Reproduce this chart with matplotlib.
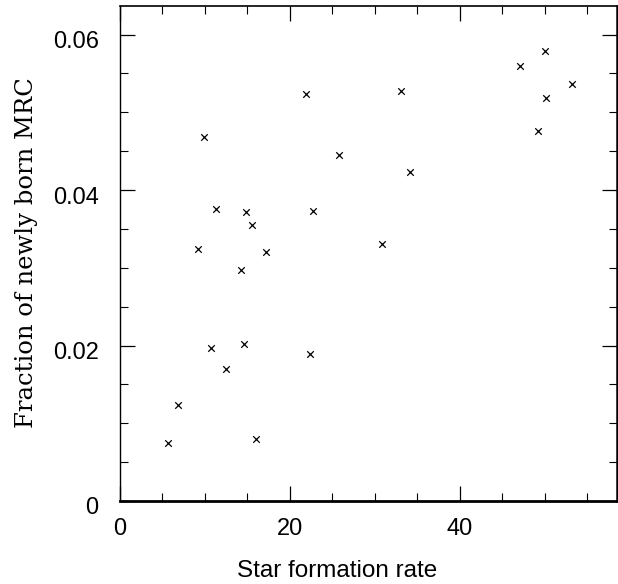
import matplotlib
matplotlib.use("Agg")
import matplotlib.pyplot as plt
from matplotlib.ticker import MultipleLocator, FixedLocator, FixedFormatter
from matplotlib.transforms import ScaledTranslation

# Data
sfr = [9.94, 21.94, 11.31, 14.88, 15.63, 22.8, 9.2, 17.24, 14.33,
       50.1, 47.15, 53.24, 50.18, 33.15, 49.24, 25.82, 34.18, 30.88,
       10.76, 14.69, 22.41, 12.49, 6.88, 5.71, 16.02]
frac = [0.04678, 0.05231, 0.03760, 0.03713, 0.03546, 0.03730, 0.03241, 0.03199, 0.02967,
        0.05784, 0.05595, 0.05363, 0.05179, 0.05273, 0.04755, 0.04446, 0.04236, 0.03306,
        0.01968, 0.02023, 0.01895, 0.01702, 0.01231, 0.00742, 0.00793]

xticks = [0, 20, 40]
xticklabels = ["0", "20", "40"]
yticks = [0, 0.02, 0.04, 0.06]
yticklabels = ["0", "0.02", "0.04", "0.06"]
xlabel = "Star formation rate"
ylabel = "Fraction of newly born MRC"

W, H = 618, 584
fig = plt.figure(figsize=(W / 100, H / 100), dpi=100)
ax = fig.add_axes([119.5 / W, 1 - 501 / H, (616.5 - 119.5) / W, (501 - 6) / H])

ax.scatter(sfr, frac, marker="x", s=22, color="black", linewidths=0.9, zorder=3)

ax.set_xlim(0, 58.47)
ax.set_ylim(0, 0.06367)

ax.xaxis.set_major_locator(FixedLocator(xticks))
ax.xaxis.set_major_formatter(FixedFormatter(xticklabels))
ax.xaxis.set_minor_locator(MultipleLocator(5))
ax.yaxis.set_major_locator(FixedLocator(yticks))
ax.yaxis.set_major_formatter(FixedFormatter(yticklabels))
ax.yaxis.set_minor_locator(MultipleLocator(0.005))

tickfont = "Liberation Sans"
ax.tick_params(which="both", direction="in", top=True, right=True, colors="black")
ax.tick_params(which="major", length=11, width=0.9)
ax.tick_params(which="minor", length=5.5, width=0.8)
ax.tick_params(axis="x", which="major", pad=12.5, labelsize=17)
ax.tick_params(axis="y", which="major", pad=15, labelsize=17)
for lab in ax.get_xticklabels() + ax.get_yticklabels():
    lab.set_family(tickfont)
for lab in ax.get_yticklabels():
    lab.set_transform(lab.get_transform() + ScaledTranslation(0, -5 / 100, fig.dpi_scale_trans))

ax.spines["left"].set_linewidth(1.0)
ax.spines["top"].set_linewidth(1.2)
ax.spines["bottom"].set_linewidth(2.0)
ax.spines["right"].set_linewidth(1.8)

fig.text(337.5 / W, 1 - 577 / H, xlabel, ha="center", va="baseline",
         fontsize=17.5, family=tickfont)
fig.text(27 / W, 1 - 252.5 / H, ylabel, ha="center", va="center", rotation=90,
         fontsize=17.5, family="DejaVu Serif")

fig.savefig("out.png", dpi=100)
